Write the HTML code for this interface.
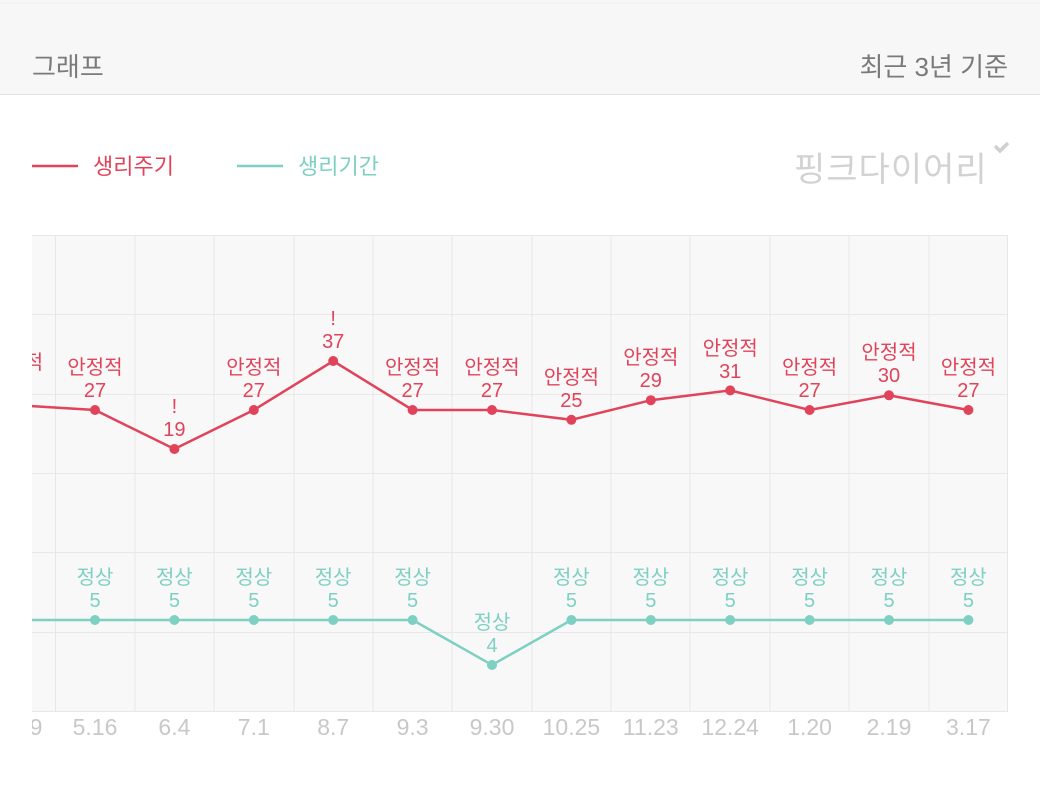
<!DOCTYPE html>
<html><head><meta charset="utf-8"><style>
html,body{margin:0;padding:0;width:1040px;height:797px;background:#fff;overflow:hidden}
svg{display:block}
text{font-family:"Liberation Sans","Noto Sans CJK KR",sans-serif}
</style></head><body>
<svg width="1040" height="797" viewBox="0 0 1040 797" xmlns="http://www.w3.org/2000/svg">
<rect x="0" y="0" width="1040" height="95" fill="#f7f7f7"/>
<line x1="0" y1="3" x2="1040" y2="3" stroke="#eee" stroke-width="1"/>
<line x1="0" y1="94.5" x2="1040" y2="94.5" stroke="#e4e4e4" stroke-width="1"/>
<text x="32" y="76" font-size="26" fill="#7a7a7a">그래프</text>
<text x="1008" y="76" font-size="26" fill="#7a7a7a" text-anchor="end">최근 3년 기준</text>

<line x1="32" y1="166" x2="78" y2="166" stroke="#e0435a" stroke-width="2.5"/>
<text x="93" y="174" font-size="22" fill="#e0435a">생리주기</text>
<line x1="237" y1="166" x2="283" y2="166" stroke="#7dd0c2" stroke-width="2.5"/>
<text x="298" y="174" font-size="22" fill="#7dd0c2">생리기간</text>
<text x="794" y="181" font-size="34" fill="#d2d2d2" letter-spacing="1">핑크다이어리</text>
<path d="M995 146 l5 5 l8 -8" stroke="#cfcfcf" stroke-width="3.5" fill="none"/>

<defs><clipPath id="c"><rect x="32" y="220" width="976" height="500"/></clipPath></defs>
<rect x="32" y="235" width="976" height="477" fill="#f8f8f8"/>
<g stroke="#e8e8e8" stroke-width="1">
<line x1="32" y1="235.5" x2="1008" y2="235.5"/>
<line x1="32" y1="314.5" x2="1008" y2="314.5"/>
<line x1="32" y1="394.5" x2="1008" y2="394.5"/>
<line x1="32" y1="473.5" x2="1008" y2="473.5"/>
<line x1="32" y1="552.5" x2="1008" y2="552.5"/>
<line x1="32" y1="632.5" x2="1008" y2="632.5"/>
<line x1="32" y1="711.5" x2="1008" y2="711.5"/>
<line x1="55.5" y1="235" x2="55.5" y2="712"/>
<line x1="135" y1="235" x2="135" y2="712"/>
<line x1="214" y1="235" x2="214" y2="712"/>
<line x1="294" y1="235" x2="294" y2="712"/>
<line x1="373" y1="235" x2="373" y2="712"/>
<line x1="452" y1="235" x2="452" y2="712"/>
<line x1="532" y1="235" x2="532" y2="712"/>
<line x1="611" y1="235" x2="611" y2="712"/>
<line x1="690" y1="235" x2="690" y2="712"/>
<line x1="770" y1="235" x2="770" y2="712"/>
<line x1="849" y1="235" x2="849" y2="712"/>
<line x1="929" y1="235" x2="929" y2="712"/>
<line x1="1007.5" y1="235" x2="1007.5" y2="712"/>
</g>
<g clip-path="url(#c)">
<polyline fill="none" stroke="#e0435a" stroke-width="2.5" points="15.6,405.1 95,410 174.4,449 253.8,410 333.2,361 412.6,410 492,410 571.4,419.8 650.8,400.2 730.2,390.4 809.6,410 889,395.3 968.4,410"/>
<polyline fill="none" stroke="#7dd0c2" stroke-width="2.5" points="15.6,620 95,620 174.4,620 253.8,620 333.2,620 412.6,620 492,665 571.4,620 650.8,620 730.2,620 809.6,620 889,620 968.4,620"/>
<g fill="#e0435a">
<circle cx="95" cy="410" r="5"/><circle cx="174.4" cy="449" r="5"/><circle cx="253.8" cy="410" r="5"/><circle cx="333.2" cy="361" r="5"/><circle cx="412.6" cy="410" r="5"/><circle cx="492" cy="410" r="5"/><circle cx="571.4" cy="419.8" r="5"/><circle cx="650.8" cy="400.2" r="5"/><circle cx="730.2" cy="390.4" r="5"/><circle cx="809.6" cy="410" r="5"/><circle cx="889" cy="395.3" r="5"/><circle cx="968.4" cy="410" r="5"/>
</g>
<g fill="#7dd0c2">
<circle cx="95" cy="620" r="5"/><circle cx="174.4" cy="620" r="5"/><circle cx="253.8" cy="620" r="5"/><circle cx="333.2" cy="620" r="5"/><circle cx="412.6" cy="620" r="5"/><circle cx="492" cy="665" r="5"/><circle cx="571.4" cy="620" r="5"/><circle cx="650.8" cy="620" r="5"/><circle cx="730.2" cy="620" r="5"/><circle cx="809.6" cy="620" r="5"/><circle cx="889" cy="620" r="5"/><circle cx="968.4" cy="620" r="5"/>
</g>
<g font-size="20" fill="#e0435a" text-anchor="middle">
<text x="15.6" y="369">안정적</text>
<text x="95" y="374">안정적</text><text x="95" y="397">27</text>
<text x="174.4" y="413">!</text><text x="174.4" y="436">19</text>
<text x="253.8" y="374">안정적</text><text x="253.8" y="397">27</text>
<text x="333.2" y="325">!</text><text x="333.2" y="348">37</text>
<text x="412.6" y="374">안정적</text><text x="412.6" y="397">27</text>
<text x="492" y="374">안정적</text><text x="492" y="397">27</text>
<text x="571.4" y="384">안정적</text><text x="571.4" y="407">25</text>
<text x="650.8" y="364">안정적</text><text x="650.8" y="387">29</text>
<text x="730.2" y="355">안정적</text><text x="730.2" y="378">31</text>
<text x="809.6" y="374">안정적</text><text x="809.6" y="397">27</text>
<text x="889" y="359">안정적</text><text x="889" y="382">30</text>
<text x="968.4" y="374">안정적</text><text x="968.4" y="397">27</text>
</g>
<g font-size="20" fill="#7dd0c2" text-anchor="middle">
<text x="95" y="584">정상</text><text x="95" y="607">5</text>
<text x="174.4" y="584">정상</text><text x="174.4" y="607">5</text>
<text x="253.8" y="584">정상</text><text x="253.8" y="607">5</text>
<text x="333.2" y="584">정상</text><text x="333.2" y="607">5</text>
<text x="412.6" y="584">정상</text><text x="412.6" y="607">5</text>
<text x="492" y="629">정상</text><text x="492" y="652">4</text>
<text x="571.4" y="584">정상</text><text x="571.4" y="607">5</text>
<text x="650.8" y="584">정상</text><text x="650.8" y="607">5</text>
<text x="730.2" y="584">정상</text><text x="730.2" y="607">5</text>
<text x="809.6" y="584">정상</text><text x="809.6" y="607">5</text>
<text x="889" y="584">정상</text><text x="889" y="607">5</text>
<text x="968.4" y="584">정상</text><text x="968.4" y="607">5</text>
</g>
</g>
<defs><clipPath id="c2"><rect x="32" y="700" width="1008" height="60"/></clipPath></defs>
<g font-size="23" fill="#c8c8c8" text-anchor="middle" clip-path="url(#c2)">
<text x="20" y="735">4.19</text>
<text x="95" y="735">5.16</text><text x="174.4" y="735">6.4</text><text x="253.8" y="735">7.1</text><text x="333.2" y="735">8.7</text><text x="412.6" y="735">9.3</text><text x="492" y="735">9.30</text><text x="571.4" y="735">10.25</text><text x="650.8" y="735">11.23</text><text x="730.2" y="735">12.24</text><text x="809.6" y="735">1.20</text><text x="889" y="735">2.19</text><text x="968.4" y="735">3.17</text>
</g>
</svg>
</body></html>
